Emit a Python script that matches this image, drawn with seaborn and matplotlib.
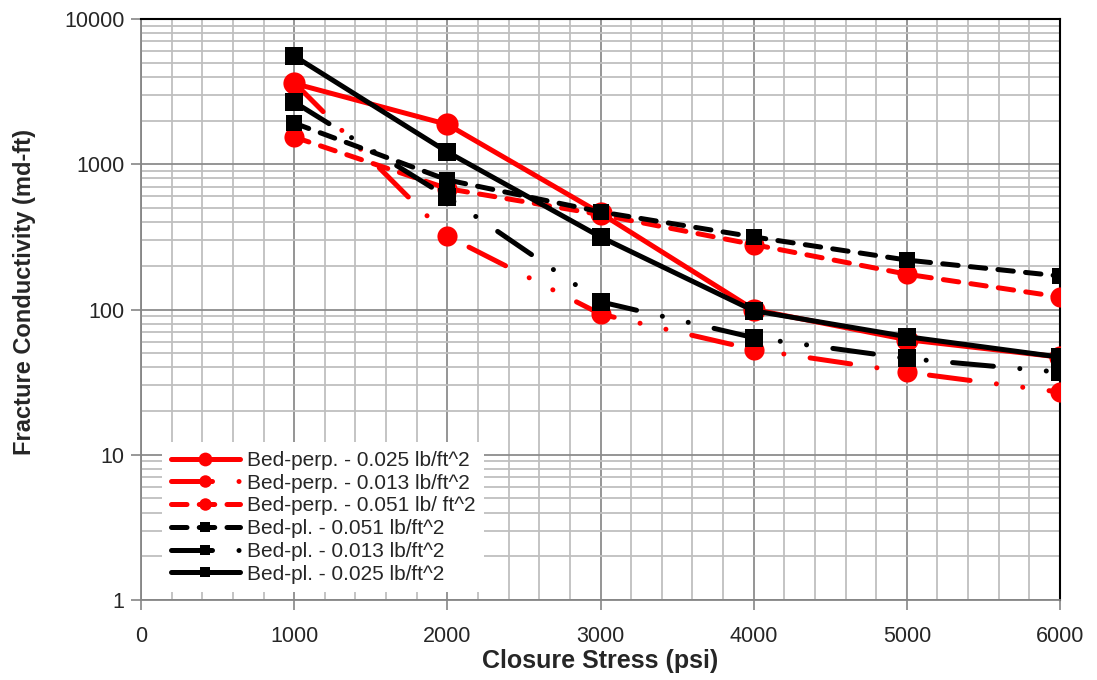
import matplotlib
matplotlib.use("Agg")
import matplotlib.pyplot as plt
import seaborn as sns
import numpy as np
import pandas as pd
from matplotlib.ticker import FixedLocator, MultipleLocator, NullFormatter, LogLocator

# ---- data ----
stress = [1000, 2000, 3000, 4000, 5000, 6000]
perp_025 = [3600, 1880, 460, 100, 62, 47]
perp_013 = [3650, 320, 93, 53, 37, 27]
perp_051 = [1540, 680, 450, 280, 175, 122]
pl_051 = [1920, 780, 470, 316, 219, 170]
pl_013 = [2680, 595, 113, 64, 46, 37]
pl_025 = [5560, 1215, 316, 98, 65, 47]

labels = [
    "Bed-perp. - 0.025 lb/ft^2",
    "Bed-perp. - 0.013 lb/ft^2",
    "Bed-perp. - 0.051 lb/ ft^2",
    "Bed-pl. - 0.051 lb/ft^2",
    "Bed-pl. - 0.013 lb/ft^2",
    "Bed-pl. - 0.025 lb/ft^2",
]
series = [perp_025, perp_013, perp_051, pl_051, pl_013, pl_025]
x_ticks = [0, 1000, 2000, 3000, 4000, 5000, 6000]
y_ticks = [1, 10, 100, 1000, 10000]

# ---- styles ----
solid = "-"
dashed = (0, (3.1, 2.45))
dashdotdot = (0, (8.2, 5.3, 0.01, 5.3, 0.01, 5.3))
styles = [
    dict(color="#ff0000", marker="o", ms=16, ls=solid),
    dict(color="#ff0000", marker="o", ms=14.5, ls=dashdotdot),
    dict(color="#ff0000", marker="o", ms=14.5, ls=dashed),
    dict(color="#000000", marker="s", ms=12, ls=dashed),
    dict(color="#000000", marker="s", ms=12.5, ls=dashdotdot),
    dict(color="#000000", marker="s", ms=12.5, ls=solid),
]

sns.set_style("white")
plt.rcParams["font.family"] = ["Liberation Sans", "DejaVu Sans"]

fig = plt.figure(figsize=(10.97, 6.80), dpi=100)
ax = fig.add_axes([141 / 1097, 1 - 600 / 680, (1060 - 141) / 1097, (600 - 19) / 680])

for vals, lab, st in zip(series, labels, styles):
    df = pd.DataFrame({"x": stress, "y": vals})
    sns.lineplot(data=df, x="x", y="y", ax=ax, label=lab,
                 color=st["color"], marker=st["marker"], markersize=st["ms"],
                 markeredgewidth=0, linewidth=3.6, linestyle=st["ls"],
                 dash_capstyle="round", solid_capstyle="round", zorder=3)

ax.set_yscale("log")
ax.set_xlim(0, 6000)
ax.set_ylim(1, 10000)
ax.xaxis.set_major_locator(FixedLocator(x_ticks))
ax.xaxis.set_minor_locator(MultipleLocator(200))
ax.yaxis.set_major_locator(FixedLocator(y_ticks))
ax.yaxis.set_minor_locator(LogLocator(base=10, subs=np.arange(2, 10)))
ax.yaxis.set_minor_formatter(NullFormatter())
ax.set_xticklabels([str(t) for t in x_ticks])
ax.set_yticklabels([str(t) for t in y_ticks])

ax.grid(which="major", color="#8c8c8c", linewidth=1.3, zorder=0)
ax.grid(which="minor", color="#bfbfbf", linewidth=1.3, zorder=0)
ax.set_axisbelow(True)

for s in ["left", "bottom"]:
    ax.spines[s].set_color("#868686")
    ax.spines[s].set_linewidth(1.3)
for s in ["top", "right"]:
    ax.spines[s].set_color("#000000")
    ax.spines[s].set_linewidth(1.5)

ax.tick_params(which="major", direction="out", length=7, width=1.2, color="#868686",
               labelsize=15.5, left=True, bottom=True)
ax.tick_params(axis="x", which="major", pad=12)
ax.tick_params(axis="y", which="major", pad=5)
ax.tick_params(which="minor", length=0)

ax.set_xlabel("Closure Stress (psi)", fontsize=18, fontweight="bold", labelpad=1)
ax.set_ylabel("Fracture Conductivity (md-ft)", fontsize=17, fontweight="bold")
ax.yaxis.set_label_coords(-0.114, 0.53)

leg = ax.legend(loc="lower left", bbox_to_anchor=(0.012, -0.004), fontsize=15,
                frameon=True, fancybox=False, framealpha=1, facecolor="white",
                edgecolor="none", handlelength=3.3, numpoints=1, markerscale=0.62,
                labelspacing=0.18, handletextpad=0.35, borderpad=0.4)
leg.set_zorder(5)

fig.savefig("out.png", dpi=100)
